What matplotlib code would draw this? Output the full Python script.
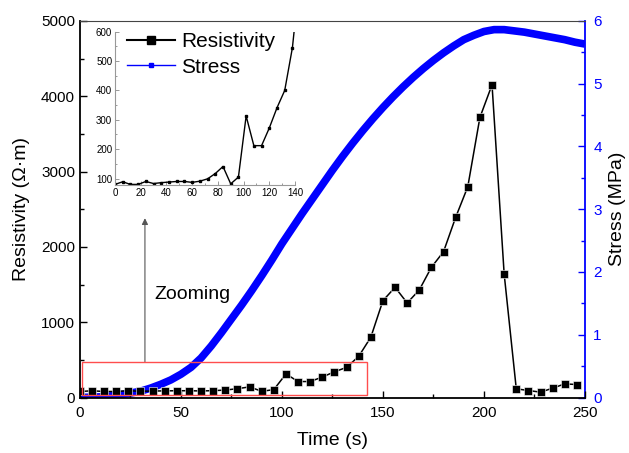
import matplotlib
matplotlib.use("Agg")
import matplotlib.pyplot as plt
from matplotlib.lines import Line2D
from matplotlib.patches import Rectangle
from matplotlib.ticker import MultipleLocator

plt.rcParams['font.family'] = ['Liberation Sans', 'DejaVu Sans']

# Resistivity sampled every 6 s
res_time = [0, 6, 12, 18, 24, 30, 36, 42, 48, 54, 60, 66, 72, 78, 84, 90, 96,
            102, 108, 114, 120, 126, 132, 138, 144, 150, 156, 162, 168, 174,
            180, 186, 192, 198, 204, 210, 216, 222, 228, 234, 240, 246]
resistivity = [80, 89, 80, 80, 90, 83, 86, 88, 90, 90, 87, 91, 99, 117, 141, 82,
               105, 313, 212, 212, 272, 341, 400, 546, 800, 1286, 1463, 1255,
               1428, 1729, 1936, 2392, 2798, 3718, 4151, 1640, 115, 93, 71,
               124, 181, 172]

# Stress (MPa)
stress_time = [0, 5, 10, 15, 20, 25, 30, 35, 40, 45, 50, 55, 60, 65, 70, 75,
               80, 85, 90, 95, 100, 105, 110, 115, 120, 125, 130, 135, 140, 145,
               150, 155, 160, 165, 170, 175, 180, 185, 190, 195, 200, 205, 210,
               215, 220, 225, 230, 235, 240, 245, 250]
stress = [0.0, 0.005, 0.01, 0.025, 0.045, 0.07, 0.10, 0.15, 0.21, 0.28, 0.37,
          0.48, 0.63, 0.82, 1.03, 1.25, 1.47, 1.70, 1.94, 2.19, 2.45, 2.69,
          2.93, 3.16, 3.39, 3.62, 3.84, 4.05, 4.25, 4.44, 4.62, 4.79, 4.95,
          5.10, 5.24, 5.37, 5.49, 5.60, 5.70, 5.77, 5.83, 5.86, 5.86, 5.84,
          5.82, 5.79, 5.76, 5.73, 5.70, 5.66, 5.63]

BLUE = '#0000ff'

fig = plt.figure(figsize=(6.29, 4.53), dpi=100)
ax = fig.add_axes([0.127, 0.1225, 0.803, 0.8315])
ax2 = ax.twinx()

# stress curve (right axis)
ax2.plot(stress_time, stress, color=BLUE, lw=5.5, solid_capstyle='butt', zorder=2)
ax2.set_ylim(0, 6)
ax2.yaxis.set_major_locator(MultipleLocator(1))
ax2.yaxis.set_minor_locator(MultipleLocator(0.5))
ax2.tick_params(axis='y', which='both', direction='in', colors=BLUE,
                labelsize=11, labelcolor=BLUE, pad=6)
ax2.tick_params(axis='y', which='major', length=5, width=1)
ax2.tick_params(axis='y', which='minor', length=3, width=1)
ax2.set_ylabel('Stress (MPa)', fontsize=14, labelpad=5)
ax2.spines['right'].set_color(BLUE)
ax2.spines['right'].set_linewidth(1.3)
for s in ('top', 'left', 'bottom'):
    ax2.spines[s].set_visible(False)

# resistivity curve (left axis), drawn above the stress curve
ax.set_zorder(ax2.get_zorder() + 1)
ax.patch.set_visible(False)
ax.plot(res_time, resistivity, color='black', lw=1.1, marker='s', ms=6.3,
        markerfacecolor='black', markeredgecolor='white', markeredgewidth=0.4)
ax.set_xlim(0, 250)
ax.set_ylim(0, 5000)
ax.xaxis.set_major_locator(MultipleLocator(50))
ax.xaxis.set_minor_locator(MultipleLocator(25))
ax.yaxis.set_major_locator(MultipleLocator(1000))
ax.yaxis.set_minor_locator(MultipleLocator(500))
ax.tick_params(which='both', direction='in', labelsize=11, width=1)
ax.tick_params(which='major', length=5)
ax.tick_params(which='minor', length=3)
ax.tick_params(axis='x', pad=6)
ax.set_xlabel('Time (s)', fontsize=14, labelpad=9)
ax.set_ylabel('Resistivity (\u03a9\u00b7m)', fontsize=14, labelpad=8)
for s in ('left', 'bottom'):
    ax.spines[s].set_linewidth(1.3)
ax.spines['top'].set_color('#444444')
ax.spines['right'].set_visible(False)

# zoom region and arrow
ax.add_patch(Rectangle((1, 35), 141, 430, fill=False, edgecolor='#ff4d4d', lw=1.0, zorder=5))
ax.annotate('', xy=(32.2, 2380), xytext=(32.2, 465),
            arrowprops=dict(arrowstyle='-|>', color='#555555', lw=0.8,
                            mutation_scale=9, shrinkA=0, shrinkB=0))
ax.text(55.5, 1370, 'Zooming', fontsize=14, ha='center', va='center')

# inset: early part of the resistivity curve
ins = fig.add_axes([0.1828, 0.5916, 0.2862, 0.3384])
ins.plot(res_time, resistivity, color='black', lw=1.0, marker='s', ms=2)
ins.set_xlim(0, 140)
ins.set_ylim(78, 600)
ins.xaxis.set_major_locator(MultipleLocator(20))
ins.xaxis.set_minor_locator(MultipleLocator(10))
ins.yaxis.set_major_locator(MultipleLocator(100))
ins.yaxis.set_minor_locator(MultipleLocator(50))
ins.tick_params(which='both', direction='in', labelsize=7, width=0.6,
                color='#888888', pad=2)
ins.tick_params(which='major', length=3)
ins.tick_params(which='minor', length=1.5)
for s in ('top', 'right'):
    ins.spines[s].set_visible(False)
for s in ('left', 'bottom'):
    ins.spines[s].set_color('#999999')
    ins.spines[s].set_linewidth(0.8)

handles = [
    Line2D([], [], color='black', lw=1.5, marker='s', ms=6),
    Line2D([], [], color=BLUE, lw=1.0, marker='s', ms=3.5),
]
ins.legend(handles, ['Resistivity', 'Stress'], loc='upper left',
           bbox_to_anchor=(0.02, 1.05), frameon=False, fontsize=15,
           handlelength=2.3, handletextpad=0.3, labelspacing=0.3,
           borderaxespad=0)

fig.savefig('out.png', dpi=100)
